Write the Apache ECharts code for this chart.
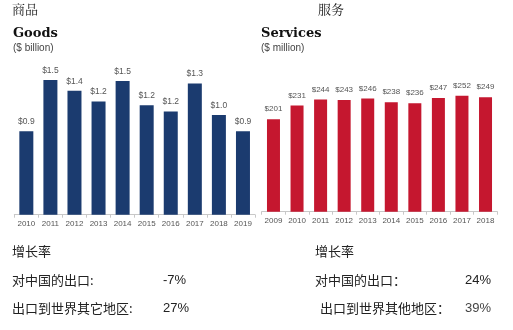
<!DOCTYPE html>
<html><head><meta charset="utf-8">
<script src="https://cdn.jsdelivr.net/npm/echarts@6/dist/echarts.min.js"></script>
<style>html,body{margin:0;padding:0;background:#fff}#c{width:513px;height:330px}</style>
</head><body><div id="c"></div>
<script>
const goodsYears = ['2010','2011','2012','2013','2014','2015','2016','2017','2018','2019'];
const goodsValues = [0.9,1.5,1.4,1.2,1.5,1.2,1.2,1.3,1.0,0.9];
const goodsBarHeights = [0.93,1.50,1.38,1.26,1.49,1.22,1.15,1.46,1.11,0.93];
const servicesYears = ['2009','2010','2011','2012','2013','2014','2015','2016','2017','2018'];
const servicesValues = [201,231,244,243,246,238,236,247,252,249];

const cjk = '"Noto Sans CJK SC", sans-serif';
const chart = echarts.init(document.getElementById('c'));
const axisCommon = {
  axisLine:{lineStyle:{color:'#c8c8c8',width:1}},
  axisTick:{show:true,alignWithLabel:false,length:3,lineStyle:{color:'#c8c8c8'}},
  axisLabel:{interval:0,color:'#555',fontSize:8,margin:5,fontFamily:'Liberation Sans, Arial'}
};
function txt(x,y,s,size,opts){
  return Object.assign({type:'text',left:x,top:y,style:{text:s,fontSize:size,fill:'#222',fontFamily:cjk}},opts||{});
}
chart.setOption({
  animation:false,
  grid:[
    {left:14.3,width:240.7,top:71,bottom:115.3},
    {left:261.7,width:235.6,top:73.7,bottom:118.3}
  ],
  xAxis:[
    Object.assign({type:'category',gridIndex:0,data:goodsYears},axisCommon),
    Object.assign({type:'category',gridIndex:1,data:servicesYears},axisCommon)
  ],
  yAxis:[
    {type:'value',gridIndex:0,min:0,max:1.6,show:false},
    {type:'value',gridIndex:1,min:0,max:300,show:false}
  ],
  series:[
    {type:'bar',xAxisIndex:0,yAxisIndex:0,barWidth:14,
     data:goodsBarHeights.map((h,i)=>({value:h,label:{formatter:'$'+goodsValues[i].toFixed(1)}})),
     itemStyle:{color:'#1b3b6f'},
     label:{show:true,position:'top',distance:5,color:'#555',fontSize:8.5,fontFamily:'Liberation Sans, Arial'}},
    {type:'bar',xAxisIndex:1,yAxisIndex:1,barWidth:13,data:servicesValues,
     itemStyle:{color:'#c5172f'},
     label:{show:true,position:'top',distance:6,color:'#555',fontSize:8,formatter:'${c}',fontFamily:'Liberation Sans, Arial'}}
  ],
  graphic:[
    txt(12,3,'商品',13,{style:{text:'商品',fontSize:13,fill:'#222',fontFamily:'"Noto Serif CJK SC","Noto Sans CJK SC",serif'}}),
    txt(318,3,'服务',13,{style:{text:'服务',fontSize:13,fill:'#222',fontFamily:'"Noto Serif CJK SC","Noto Sans CJK SC",serif'}}),
    {type:'text',left:13,top:27,style:{text:'Goods',fontSize:13,fontWeight:'bold',fill:'#111',fontFamily:'"DejaVu Serif","Liberation Serif",serif'}},
    {type:'text',left:13,top:43,style:{text:'($ billion)',fontSize:10,fill:'#444',fontFamily:'Liberation Sans, Arial'}},
    {type:'text',left:261,top:27,style:{text:'Services',fontSize:13,fontWeight:'bold',fill:'#111',fontFamily:'"DejaVu Serif","Liberation Serif",serif'}},
    {type:'text',left:261,top:43,style:{text:'($ million)',fontSize:10,fill:'#444',fontFamily:'Liberation Sans, Arial'}},
    txt(12,245,'增长率',13),
    txt(12,274,'对中国的出口:',13),
    {type:'text',left:163,top:274,style:{text:'-7%',fontSize:13,fill:'#222',fontFamily:'Liberation Sans, Arial'}},
    txt(12,302,'出口到世界其它地区:',13),
    {type:'text',left:163,top:302,style:{text:'27%',fontSize:13,fill:'#222',fontFamily:'Liberation Sans, Arial'}},
    txt(315,245,'增长率',13),
    txt(315,274,'对中国的出口：',13),
    {type:'text',left:465,top:274,style:{text:'24%',fontSize:13,fill:'#222',fontFamily:'Liberation Sans, Arial'}},
    txt(320,302,'出口到世界其他地区：',13),
    {type:'text',left:465,top:302,style:{text:'39%',fontSize:13,fill:'#444',fontFamily:'Liberation Sans, Arial'}}
  ]
});
</script></body></html>
